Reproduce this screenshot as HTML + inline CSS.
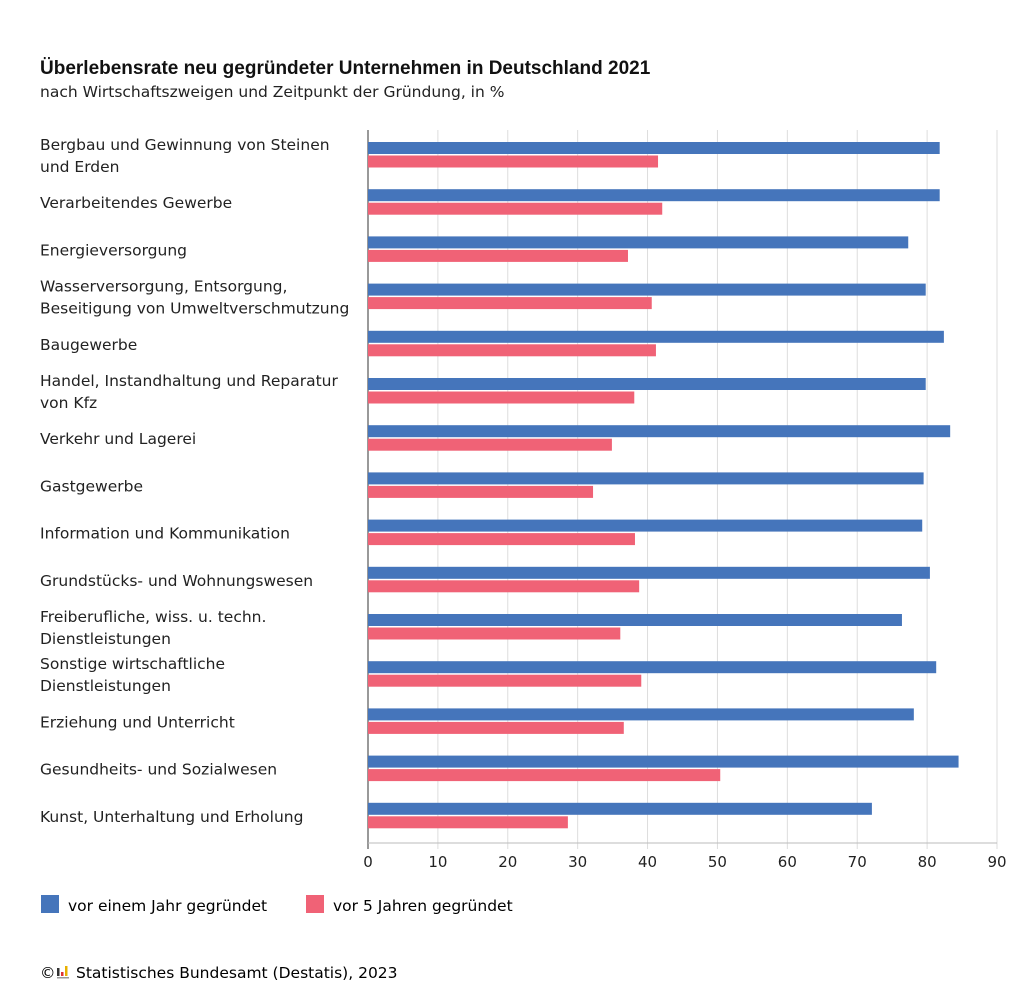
<!DOCTYPE html>
<html><head><meta charset="utf-8"><style>
body{margin:0;background:#fff;font-family:"DejaVu Sans",sans-serif;color:#222}
svg text{font-family:"DejaVu Sans",sans-serif}
</style></head><body>
<svg id="chart" width="1024" height="1000" xmlns="http://www.w3.org/2000/svg">
<text x="40" y="74" font-size="19" font-weight="bold" fill="#111" style="font-family:'Liberation Sans',sans-serif">Überlebensrate neu gegründeter Unternehmen in Deutschland 2021</text>
<text x="40" y="97" font-size="15.5" fill="#222">nach Wirtschaftszweigen und Zeitpunkt der Gründung, in %</text>
<g id="grid"></g><g id="bars"></g><g id="labels"></g><g id="ticks"></g>
<g>
<rect x="41" y="895" width="18" height="18" fill="#4575bb"/>
<text x="68" y="911" font-size="15.5">vor einem Jahr gegründet</text>
<rect x="306" y="895" width="18" height="18" fill="#f06276"/>
<text x="333" y="911" font-size="15.5">vor 5 Jahren gegründet</text>
</g>
<g>
<text x="40" y="978" font-size="15.5">©</text>
<rect x="57" y="968" width="2.5" height="8" fill="#333"/><rect x="61" y="972" width="2.5" height="4" fill="#d33"/><rect x="65" y="966" width="2.5" height="10" fill="#e8b000"/>
<rect x="57" y="977" width="12" height="1.5" fill="#999"/>
<text x="76" y="978" font-size="15.5">Statistisches Bundesamt (Destatis), 2023</text>
</g>
</svg>
<script>
const categories=[["Bergbau und Gewinnung von Steinen","und Erden"],["Verarbeitendes Gewerbe"],["Energieversorgung"],["Wasserversorgung, Entsorgung,","Beseitigung von Umweltverschmutzung"],["Baugewerbe"],["Handel, Instandhaltung und Reparatur","von Kfz"],["Verkehr und Lagerei"],["Gastgewerbe"],["Information und Kommunikation"],["Grundstücks- und Wohnungswesen"],["Freiberufliche, wiss. u. techn.","Dienstleistungen"],["Sonstige wirtschaftliche","Dienstleistungen"],["Erziehung und Unterricht"],["Gesundheits- und Sozialwesen"],["Kunst, Unterhaltung und Erholung"]];
const oneYear=[81.8,81.8,77.3,79.8,82.4,79.8,83.3,79.5,79.3,80.4,76.4,81.3,78.1,84.5,72.1];
const fiveYears=[41.5,42.1,37.2,40.6,41.2,38.1,34.9,32.2,38.2,38.8,36.1,39.1,36.6,50.4,28.6];
const ticks=[0,10,20,30,40,50,60,70,80,90];
const NS="http://www.w3.org/2000/svg";
const x0=368,x1=997,yTop=130,yBot=843,rowH=47.2,firstBar=142;
const xs=v=>x0+(v/90)*(x1-x0);
function mk(t,a,p){const e=document.createElementNS(NS,t);for(const k in a)e.setAttribute(k,a[k]);p.appendChild(e);return e;}
const grid=document.getElementById('grid'),bars=document.getElementById('bars'),labels=document.getElementById('labels'),tk=document.getElementById('ticks');
ticks.forEach(t=>{
 const l=mk('line',{x1:xs(t),x2:xs(t),y1:yTop,y2:yBot+6,stroke:t===0?'#333':'#ddd','stroke-width':1},grid);
 
 
 const tx=mk('text',{x:xs(t),y:867,'font-size':15,'text-anchor':'middle',fill:'#222'},tk);
 tx.textContent=t;
 
 
});
mk('line',{x1:x0,x2:x1,y1:yBot,y2:yBot,stroke:'#bbb','stroke-width':1},grid);
categories.forEach((c,i)=>{
 const y=firstBar+i*rowH;
 const b=mk('rect',{x:x0,y:y,width:xs(oneYear[i])-x0,height:12,fill:'#4575bb'},bars);
 
 
 const r=mk('rect',{x:x0,y:y+13.5,width:xs(fiveYears[i])-x0,height:12,fill:'#f06276'},bars);
 
 
 const cy=y+13;
 c.forEach((line,j)=>{
  const ly=c.length===1?cy+6:cy-5+j*22;
  const t=mk('text',{x:40,y:ly,'font-size':15.5,fill:'#222'},labels);
  t.textContent=line;
  
  
 });
});
</script>
</body></html>
